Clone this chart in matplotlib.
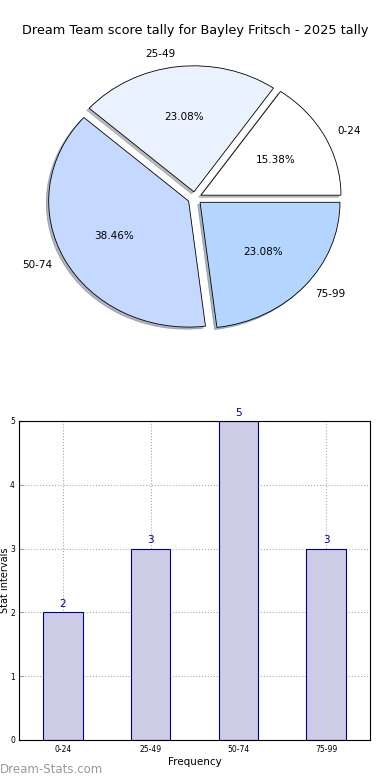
import matplotlib
matplotlib.use("Agg")
import matplotlib.pyplot as plt

categories = ["0-24", "25-49", "50-74", "75-99"]
counts = [2, 3, 5, 3]
pie_colors = ["#ffffff", "#eaf1ff", "#c5d8ff", "#b4d5ff"]
title = "Dream Team score tally for Bayley Fritsch - 2025 tally"

fig = plt.figure(figsize=(3.9, 7.8), dpi=100)

# pie (old-style, not forced to equal aspect)
ax1 = fig.add_axes([0.051, 0.544, 0.897, 0.404])
wedges, texts, autotexts = ax1.pie(
    counts, labels=categories, colors=pie_colors, explode=[0.05] * 4,
    autopct="%1.2f%%", shadow=dict(ox=-0.012, oy=-0.012, shade=0.5), startangle=0,
    wedgeprops=dict(edgecolor="black", linewidth=0.6),
    textprops=dict(fontsize=7.5))
ax1.set_aspect("auto")
ax1.set_xlim(-1.25, 1.25)
ax1.set_ylim(-1.25, 1.25)
fig.text(0.5, 0.961, title, ha="center", va="center", fontsize=9.3)

# bar chart
ax2 = fig.add_axes([0.049, 0.0513, 0.9, 0.409])
x = range(len(categories))
ax2.bar(x, counts, width=0.45, color="#ccccE6", edgecolor="#000080", linewidth=0.8, zorder=2)
for xi, c in zip(x, counts):
    ax2.text(xi, c + 0.05, str(c), ha="center", va="bottom", color="#000080", fontsize=7.5)
ax2.set_xlim(-0.5, 3.5)
ax2.set_ylim(0, max(counts))
ax2.set_xticks(list(x))
ax2.set_xticklabels(categories, fontsize=5.5)
ax2.set_yticks(range(0, max(counts) + 1))
ax2.tick_params(axis="y", labelsize=5.5, length=3, direction="in", color="#999999", pad=3)
ax2.tick_params(axis="x", length=3, direction="in", color="#999999")
ax2.grid(True, linestyle=":", color="#aaaaaa", linewidth=0.8, zorder=0)
ax2.set_xlabel("Frequency", fontsize=7.5, labelpad=2)
ax2.set_ylabel("Stat intervals", fontsize=7)
ax2.yaxis.set_label_coords(-0.025, 0.5)

fig.text(0.0, 0.013, "Dream-Stats.com", ha="left", va="center", fontsize=8.5,
         color="#999999")

fig.savefig("out.png", dpi=100)
